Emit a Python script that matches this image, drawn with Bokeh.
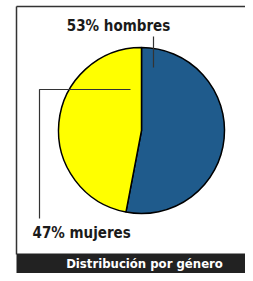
import math
from bokeh.plotting import figure
from bokeh.models import ColumnDataSource, Label
from bokeh.embed import file_html
from bokeh.resources import INLINE

categories = ["hombres", "mujeres"]
shares = [53, 47]
colors = ["#1F5B8C", "#FFFF00"]
title_text = "Distribución por género"

W, H = 245, 273
FONT = "DejaVu Sans Condensed"

def X(px):
    return px

def Y(py):
    return H - py

p = figure(width=W, height=H, x_range=(0, W), y_range=(0, H),
           output_backend="svg", toolbar_location=None, min_border=0)
p.axis.visible = False
p.grid.visible = False
p.outline_line_color = None
p.background_fill_color = "white"
p.border_fill_color = "white"

# frame
p.line([X(16), X(16)], [Y(254), Y(6)], line_color="#333333", line_width=1.5)
p.line([X(16), X(W)], [Y(6), Y(6)], line_color="#333333", line_width=1.5)

# bottom band
p.quad(left=X(16), right=X(W), bottom=Y(H), top=Y(253),
       fill_color="#222222", line_color=None)

# pie
total = sum(shares)
starts, ends = [], []
a = math.pi / 2
for s in shares:
    starts.append(a)
    a -= 2 * math.pi * s / total
    ends.append(a)
src = ColumnDataSource(dict(start=starts, end=ends, color=colors))
p.wedge(x=X(141), y=Y(130), radius=83, start_angle="end", end_angle="start",
        fill_color="color", line_color="black", line_width=1.5, source=src)

# leader lines
p.line([X(153), X(153)], [Y(36), Y(67)], line_color="#333333", line_width=1.2)
p.line([X(130), X(39), X(39)], [Y(89), Y(89), Y(218)], line_color="#333333", line_width=1.2)

lab1 = f"{shares[0]}% {categories[0]}"
lab2 = f"{shares[1]}% {categories[1]}"
p.add_layout(Label(x=X(118), y=Y(25), text=lab1, text_font=FONT, text_font_style="bold",
                   text_font_size="15px", text_color="#1a1a1a", text_align="center",
                   text_baseline="middle"))
p.add_layout(Label(x=X(32), y=Y(232), text=lab2, text_font=FONT, text_font_style="bold",
                   text_font_size="15px", text_color="#1a1a1a", text_align="left",
                   text_baseline="middle"))
p.add_layout(Label(x=X(144), y=Y(263), text=title_text, text_font=FONT, text_font_style="bold",
                   text_font_size="13px", text_color="white", text_align="center",
                   text_baseline="middle"))

open("out.html", "w").write(file_html(p, INLINE))
